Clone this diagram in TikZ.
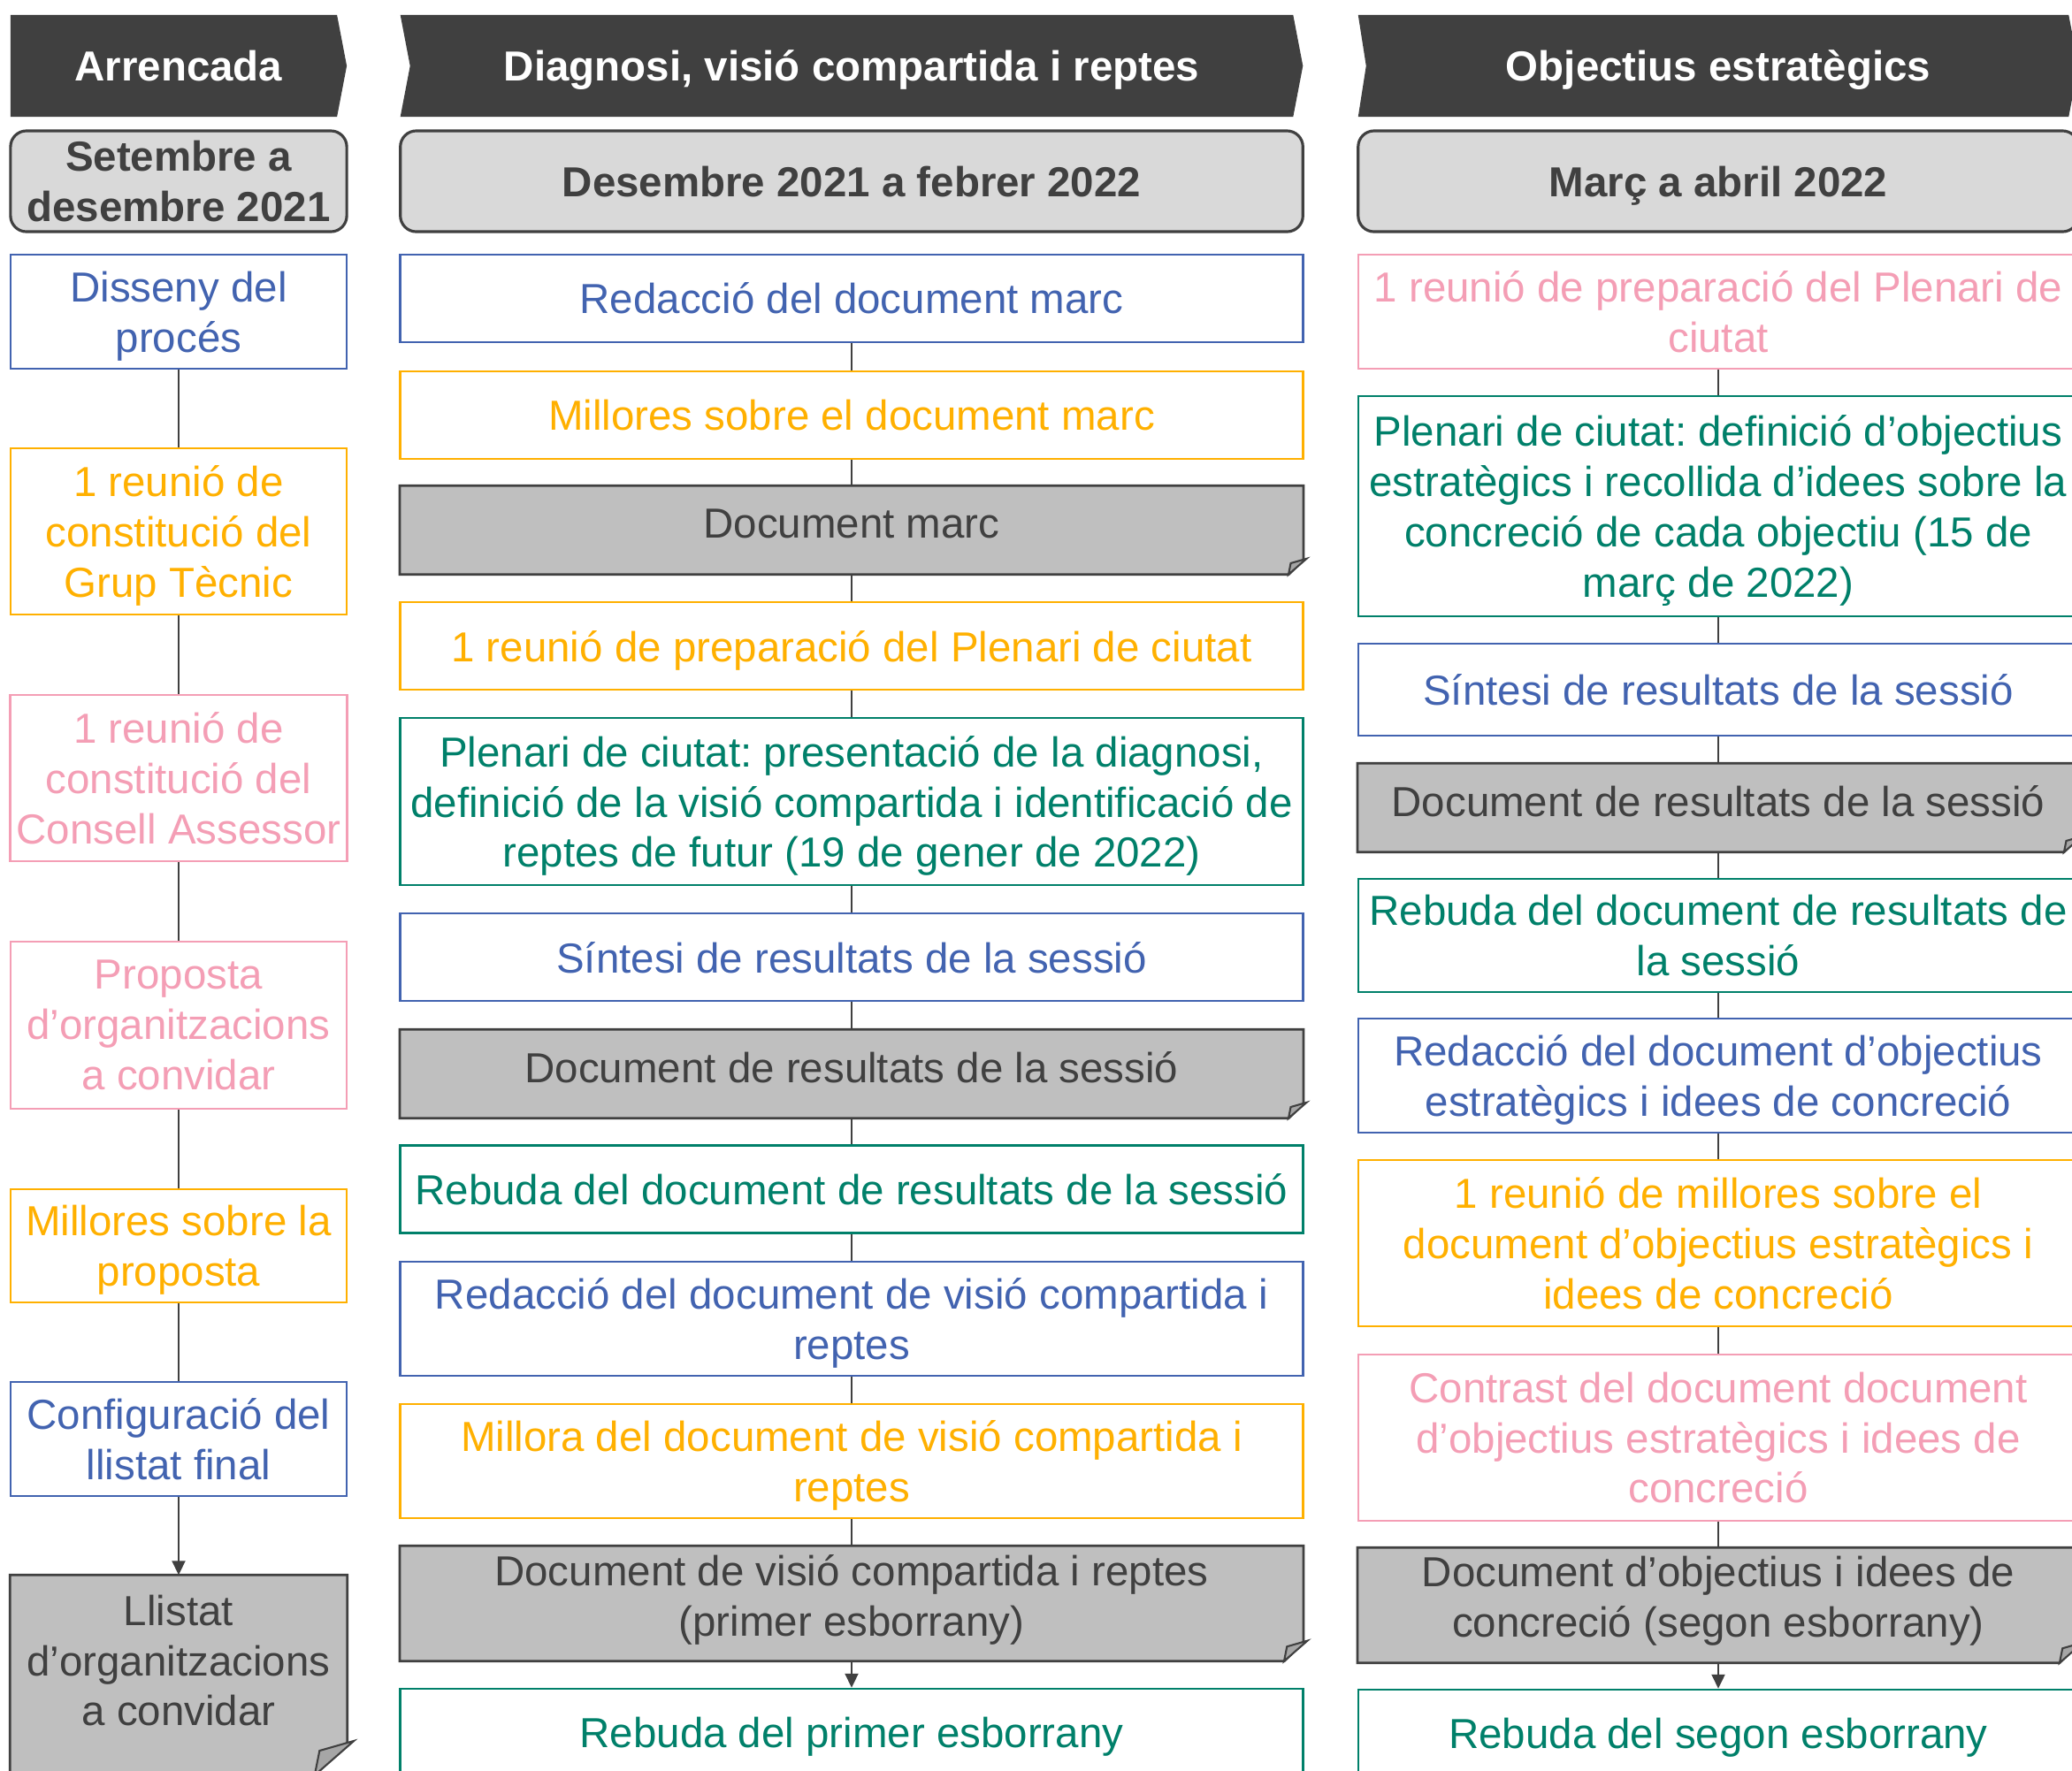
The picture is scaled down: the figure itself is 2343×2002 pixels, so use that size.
\documentclass[tikz,border=0pt]{standalone}
\usepackage{fontspec}
\setmainfont{Liberation Sans}
\usetikzlibrary{backgrounds,arrows.meta}
\frenchspacing

\definecolor{procblue}{RGB}{66,99,176}
\definecolor{procorange}{RGB}{255,176,0}
\definecolor{procpink}{RGB}{244,158,181}
\definecolor{procgreen}{RGB}{0,128,106}
\definecolor{darkgrey}{RGB}{64,64,64}
\definecolor{docgrey}{RGB}{191,191,191}
\definecolor{foldgrey}{RGB}{166,166,166}
\definecolor{periodgrey}{RGB}{217,217,217}

\tikzset{
    every node/.style={font=\fontsize{13.5}{16.2}\selectfont, align=center, inner sep=2pt},
    colA/.style={minimum width=3.8cm},
    colB/.style={minimum width=10.2cm},
    colC/.style={minimum width=8.14cm},
    oneline/.style={text depth=0pt},
    box/.style={draw, line width=0.7pt, fill=white, minimum height=0.99cm},
    bluebox/.style={box, draw=procblue, text=procblue},
    orangebox/.style={box, draw=procorange, text=procorange},
    pinkbox/.style={box, draw=procpink, text=procpink},
    greenbox/.style={box, draw=procgreen, text=procgreen},
    docbox/.style={minimum height=0.99cm},
    doctext/.style={text=darkgrey},
    phase/.style={text=white, outer sep=0pt, minimum height=1.15cm, oneline,
        font=\fontsize{13.5}{16.2}\selectfont\bfseries},
    period/.style={draw=darkgrey, fill=periodgrey, rounded corners=0.18cm, line width=0.9pt,
        text=darkgrey, minimum height=1.14cm, font=\fontsize{13.5}{16.2}\selectfont\bfseries},
    link/.style={draw=darkgrey, line width=0.6pt},
    linkarrow/.style={link, -{Triangle[length=0.16cm, width=0.15cm]}}
}

% last line of a box, its descenders left out of the centring
\newcommand{\lastln}[1]{\smash{#1}}

% document shape with folded corner, #1 node, #2 fold size
\newcommand{\docshape}[2]{%
    \filldraw[draw=darkgrey, fill=docgrey, line width=0.8pt]
        (#1.north west) -- (#1.north east) -- ([yshift=#2]#1.south east)
        -- ([xshift=-#2]#1.south east) -- (#1.south west) -- cycle;
    \filldraw[draw=darkgrey, fill=foldgrey, line width=0.6pt]
        ([xshift=-#2]#1.south east) -- ([xshift=-0.85*#2, yshift=0.75*#2]#1.south east)
        -- ([xshift=0.2*#2, yshift=1.05*#2]#1.south east) -- cycle;
}

\begin{document}
\begin{tikzpicture}[x=0.01cm, y=-0.01cm]

    \useasboundingbox (0,0) rectangle (2343,2002);

    % Phase headers
    \node[phase, colA] (h1) at (202,74.5) {Arrencada};
    \node[phase, colB] (h2) at (963,74.5) {Diagnosi, visió compartida i reptes};
    \node[phase, colC] (h3) at (1943,74.5) {Objectius estratègics};

    % Periods
    \node[period, colA] (p1) at (202,205) {Setembre a\\desembre 2021};
    \node[period, colB, oneline] (p2) at (963,205) {Desembre 2021 a febrer 2022};
    \node[period, colC, oneline] (p3) at (1943,205) {Març a abril 2022};

    % Column 1
    \node[bluebox, colA, minimum height=1.29cm] (c1a) at (202,352.5) {Disseny del\\\lastln{procés}};
    \node[orangebox, colA, minimum height=1.88cm] (c1b) at (202,601) {1 reunió de\\constitució del\\\lastln{Grup Tècnic}};
    \node[pinkbox, colA, minimum height=1.88cm] (c1c) at (202,880) {1 reunió de\\constitució del\\Consell Assessor};
    \node[pinkbox, colA, minimum height=1.89cm] (c1d) at (202,1159.5) {Proposta\\d’organitzacions\\a convidar};
    \node[orangebox, colA, minimum height=1.28cm] (c1e) at (202,1409) {Millores sobre la\\\lastln{proposta}};
    \node[bluebox, colA, minimum height=1.29cm] (c1f) at (202,1627.5) {Configuració del\\llistat final};
    \node[docbox, colA, minimum height=2.25cm] (c1g) at (202,1894.5) {};
    \node[doctext] (c1g-t) at ([yshift=0.165cm]c1g.center) {Llistat\\d’organitzacions\\a convidar};

    % Column 2
    \node[bluebox, colB, oneline] (c2a) at (963,337.5) {Redacció del document marc};
    \node[orangebox, colB, oneline] (c2b) at (963,469.5) {Millores sobre el document marc};
    \node[docbox, colB] (c2c) at (963,599.5) {};
    \node[doctext] (c2c-t) at ([yshift=0.075cm]c2c.center) {Document marc};
    \node[orangebox, colB, oneline] (c2d) at (963,730.5) {1 reunió de preparació del Plenari de ciutat};
    \node[greenbox, colB, minimum height=1.89cm] (c2e) at (963,906.5) {Plenari de ciutat: presentació de la diagnosi,\\definició de la visió compartida i identificació de\\\lastln{reptes de futur (19 de gener de 2022)}};
    \node[bluebox, colB, oneline] (c2f) at (963,1082.5) {Síntesi de resultats de la sessió};
    \node[docbox, colB] (c2g) at (963,1214.5) {};
    \node[doctext] (c2g-t) at ([yshift=0.075cm]c2g.center) {Document de resultats de la sessió};
    \node[greenbox, colB, oneline] (c2h) at (963,1345) {Rebuda del document de resultats de la sessió};
    \node[bluebox, colB, minimum height=1.29cm] (c2i) at (963,1491.5) {Redacció del document de visió compartida i\\\lastln{reptes}};
    \node[orangebox, colB, minimum height=1.29cm] (c2j) at (963,1652.5) {Millora del document de visió compartida i\\\lastln{reptes}};
    \node[docbox, colB, minimum height=1.29cm] (c2k) at (963,1813.5) {};
    \node[doctext] (c2k-t) at ([yshift=0.045cm]c2k.center) {Document de visió compartida i reptes\\(primer esborrany)};
    \node[greenbox, colB, oneline] (c2l) at (963,1959.5) {Rebuda del primer esborrany};

    % Column 3
    \node[pinkbox, colC, minimum height=1.29cm] (c3a) at (1943,352.5) {1 reunió de preparació del Plenari de\\ciutat};
    \node[greenbox, colC, minimum height=2.49cm] (c3b) at (1943,572.5) {Plenari de ciutat: definició d’objectius\\estratègics i recollida d’idees sobre la\\concreció de cada objectiu (15 de\\\lastln{març de 2022)}};
    \node[bluebox, colC, minimum height=1.04cm, oneline] (c3c) at (1943,780) {Síntesi de resultats de la sessió};
    \node[docbox, colC] (c3d) at (1943,913.5) {};
    \node[doctext] (c3d-t) at ([yshift=0.075cm]c3d.center) {Document de resultats de la sessió};
    \node[greenbox, colC, minimum height=1.28cm] (c3e) at (1943,1058) {Rebuda del document de resultats de\\la sessió};
    \node[bluebox, colC, minimum height=1.29cm] (c3f) at (1943,1216.5) {Redacció del document d’objectius\\\lastln{estratègics i idees de concreció}};
    \node[orangebox, colC, minimum height=1.88cm] (c3g) at (1943,1406) {1 reunió de millores sobre el\\document d’objectius estratègics i\\idees de concreció};
    \node[pinkbox, colC, minimum height=1.88cm] (c3h) at (1943,1626) {Contrast del document document\\d’objectius estratègics i idees de\\concreció};
    \node[docbox, colC, minimum height=1.29cm] (c3i) at (1943,1815.5) {};
    \node[doctext] (c3i-t) at ([yshift=0.045cm]c3i.center) {Document d’objectius i idees de\\concreció (segon esborrany)};
    \node[greenbox, colC, oneline] (c3j) at (1943,1960.5) {Rebuda del segon esborrany};

    % Chevrons and documents behind the texts
    \begin{scope}[on background layer]
        \fill[darkgrey] (h1.north west) -- ([xshift=-0.11cm]h1.north east) -- (h1.east)
            -- ([xshift=-0.11cm]h1.south east) -- (h1.south west) -- cycle;
        \fill[darkgrey] (h2.north west) -- ([xshift=-0.11cm]h2.north east) -- (h2.east)
            -- ([xshift=-0.11cm]h2.south east) -- (h2.south west) -- ([xshift=0.11cm]h2.west) -- cycle;
        \fill[darkgrey] (h3.north west) -- ([xshift=-0.11cm]h3.north east) -- (h3.east)
            -- ([xshift=-0.11cm]h3.south east) -- (h3.south west) -- ([xshift=0.09cm]h3.west) -- cycle;
        \docshape{c1g}{0.37cm}
        \docshape{c2c}{0.17cm}
        \docshape{c2g}{0.17cm}
        \docshape{c2k}{0.22cm}
        \docshape{c3d}{0.17cm}
        \docshape{c3i}{0.22cm}
    \end{scope}

    % Connectors
    \draw[link] (c1a) -- (c1b);
    \draw[link] (c1b) -- (c1c);
    \draw[link] (c1c) -- (c1d);
    \draw[link] (c1d) -- (c1e);
    \draw[link] (c1e) -- (c1f);
    \draw[linkarrow] (c1f) -- (c1g);

    \draw[link] (c2a) -- (c2b);
    \draw[link] (c2b) -- (c2c);
    \draw[link] (c2c) -- (c2d);
    \draw[link] (c2d) -- (c2e);
    \draw[link] (c2e) -- (c2f);
    \draw[link] (c2f) -- (c2g);
    \draw[link] (c2g) -- (c2h);
    \draw[link] (c2h) -- (c2i);
    \draw[link] (c2i) -- (c2j);
    \draw[link] (c2j) -- (c2k);
    \draw[linkarrow] (c2k) -- (c2l);

    \draw[link] (c3a) -- (c3b);
    \draw[link] (c3b) -- (c3c);
    \draw[link] (c3c) -- (c3d);
    \draw[link] (c3d) -- (c3e);
    \draw[link] (c3e) -- (c3f);
    \draw[link] (c3f) -- (c3g);
    \draw[link] (c3g) -- (c3h);
    \draw[link] (c3h) -- (c3i);
    \draw[linkarrow] (c3i) -- (c3j);

\end{tikzpicture}
\end{document}
